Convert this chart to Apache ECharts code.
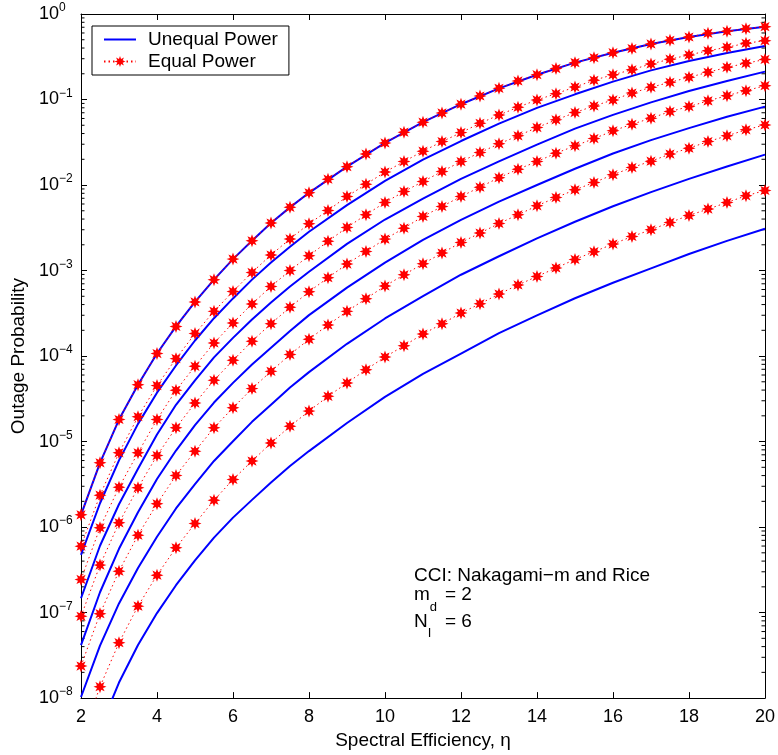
<!DOCTYPE html>
<html><head><meta charset="utf-8">
<script src="https://cdn.jsdelivr.net/npm/echarts@6/dist/echarts.min.js"></script>
<style>html,body{margin:0;padding:0;background:#fff}#c{width:778px;height:755px}</style>
</head><body><div id="c"></div>
<script>
// x values (spectral efficiency) for the marked "Equal Power" curves
const eta = [2,2.5,3,3.5,4,4.5,5,5.5,6,6.5,7,7.5,8,8.5,9,9.5,10,10.5,11,11.5,12,12.5,13,13.5,14,14.5,15,15.5,16,16.5,17,17.5,18,18.5,19,19.5,20];
const equalP1 = [1.39e-6,5.64e-6,1.81e-5,4.63e-5,1.07e-4,2.22e-4,4.29e-4,7.82e-4,1.36e-3,2.23e-3,3.59e-3,5.48e-3,8.11e-3,1.17e-2,1.64e-2,2.30e-2,3.11e-2,4.15e-2,5.43e-2,6.97e-2,8.81e-2,0.110,0.135,0.165,0.195,0.230,0.270,0.308,0.353,0.394,0.447,0.493,0.538,0.596,0.628,0.673,0.711];
const equalP2 = [5.98e-7,2.36e-6,7.38e-6,1.95e-5,4.51e-5,9.33e-5,1.83e-4,3.33e-4,5.70e-4,9.51e-4,1.52e-3,2.34e-3,3.52e-3,5.04e-3,7.35e-3,1.02e-2,1.42e-2,1.88e-2,2.49e-2,3.22e-2,4.10e-2,5.28e-2,6.58e-2,8.13e-2,9.89e-2,0.117,0.140,0.168,0.195,0.223,0.261,0.296,0.332,0.372,0.408,0.455,0.488];
const equalP3 = [2.44e-7,9.82e-7,2.92e-6,7.38e-6,1.81e-5,3.97e-5,7.59e-5,1.42e-4,2.44e-4,4.06e-4,6.52e-4,1.00e-3,1.49e-3,2.20e-3,3.19e-3,4.49e-3,6.25e-3,8.39e-3,1.10e-2,1.44e-2,1.88e-2,2.40e-2,3.03e-2,3.76e-2,4.70e-2,5.78e-2,7.03e-2,8.41e-2,9.89e-2,0.119,0.139,0.159,0.182,0.208,0.238,0.265,0.294];
const equalP4 = [9.04e-8,3.59e-7,1.12e-6,2.88e-6,6.85e-6,1.45e-5,2.82e-5,5.20e-5,8.91e-5,1.49e-4,2.39e-4,3.72e-4,5.65e-4,8.24e-4,1.19e-3,1.67e-3,2.33e-3,3.13e-3,4.29e-3,5.61e-3,7.35e-3,9.44e-3,1.22e-2,1.53e-2,1.88e-2,2.36e-2,2.87e-2,3.49e-2,4.30e-2,5.14e-2,6.05e-2,7.23e-2,8.26e-2,9.64e-2,0.111,0.127,0.145];
const equalP5 = [2.37e-8,9.70e-8,3.05e-7,8.04e-7,1.87e-6,4.01e-6,7.71e-6,1.45e-5,2.48e-5,4.16e-5,6.62e-5,1.04e-4,1.57e-4,2.31e-4,3.33e-4,4.69e-4,6.59e-4,8.93e-4,1.20e-3,1.60e-3,2.13e-3,2.74e-3,3.55e-3,4.49e-3,5.71e-3,7.14e-3,8.79e-3,1.07e-2,1.32e-2,1.60e-2,1.90e-2,2.30e-2,2.70e-2,3.22e-2,3.76e-2,4.42e-2,5.05e-2];
const equalP6 = [3.13e-9,1.36e-8,4.45e-8,1.19e-7,2.74e-7,5.73e-7,1.10e-6,2.06e-6,3.60e-6,5.92e-6,9.60e-6,1.51e-5,2.27e-5,3.38e-5,4.85e-5,6.93e-5,9.75e-5,1.32e-4,1.81e-4,2.38e-4,3.18e-4,4.09e-4,5.31e-4,6.78e-4,8.53e-4,1.07e-3,1.35e-3,1.66e-3,2.04e-3,2.50e-3,3.00e-3,3.65e-3,4.41e-3,5.23e-3,6.25e-3,7.48e-3,8.63e-3];

// x values for the solid "Unequal Power" curves
const etaU = [2,2.5,3,3.5,4,4.5,5,5.5,6,6.5,7,7.5,8,9,10,11,12,13,14,15,16,17,18,19,20];
const unequalP1 = [1.39e-6,5.64e-6,1.81e-5,4.63e-5,1.07e-4,2.22e-4,4.29e-4,7.82e-4,1.36e-3,2.23e-3,3.59e-3,5.48e-3,8.11e-3,1.64e-2,3.11e-2,5.43e-2,8.81e-2,0.135,0.195,0.270,0.353,0.447,0.538,0.628,0.711];
const unequalP2 = [4.72e-7,1.90e-6,6.03e-6,1.61e-5,3.73e-5,7.76e-5,1.52e-4,2.77e-4,4.72e-4,7.83e-4,1.24e-3,1.90e-3,2.84e-3,5.83e-3,1.12e-2,1.98e-2,3.27e-2,5.22e-2,7.98e-2,0.115,0.162,0.219,0.282,0.350,0.423];
const unequalP3 = [1.47e-7,6.05e-7,1.85e-6,4.80e-6,1.21e-5,2.69e-5,5.20e-5,9.64e-5,1.63e-4,2.68e-4,4.24e-4,6.52e-4,9.68e-4,2.05e-3,3.95e-3,6.95e-3,1.18e-2,1.89e-2,2.97e-2,4.57e-2,6.61e-2,9.25e-2,0.126,0.165,0.212];
const unequalP4 = [4.17e-8,1.73e-7,5.57e-7,1.49e-6,3.65e-6,7.85e-6,1.56e-5,2.86e-5,4.86e-5,7.96e-5,1.25e-4,1.96e-4,3.01e-4,6.32e-4,1.24e-3,2.28e-3,3.92e-3,6.40e-3,1.00e-2,1.55e-2,2.34e-2,3.35e-2,4.63e-2,6.28e-2,8.26e-2];
const unequalP5 = [1.03e-8,4.10e-8,1.28e-7,3.33e-7,7.71e-7,1.65e-6,3.17e-6,5.93e-6,1.01e-5,1.70e-5,2.70e-5,4.28e-5,6.49e-5,1.39e-4,2.75e-4,5.01e-4,8.93e-4,1.47e-3,2.38e-3,3.72e-3,5.64e-3,8.26e-3,1.18e-2,1.65e-2,2.27e-2];
const unequalP6 = [null,4.40e-9,1.52e-8,4.17e-8,9.86e-8,2.09e-7,4.07e-7,7.52e-7,1.29e-6,2.08e-6,3.32e-6,5.18e-6,7.74e-6,1.65e-5,3.33e-5,6.18e-5,1.07e-4,1.85e-4,2.99e-4,4.74e-4,7.19e-4,1.06e-3,1.56e-3,2.22e-3,3.08e-3];

// axis ticks
const xTicks = [2,4,6,8,10,12,14,16,18,20];
const yExponents = [-8,-7,-6,-5,-4,-3,-2,-1,0];
const minorMantissas = [2,3,4,5,6,7,8,9];

const FONT = '"Liberation Sans", Arial, Helvetica, sans-serif';
const xMin = xTicks[0], xMax = xTicks[xTicks.length - 1];
const yMin = Math.pow(10, yExponents[0]), yMax = Math.pow(10, yExponents[yExponents.length - 1]);

function pairs(xs, ys) {
  const out = [];
  for (let i = 0; i < xs.length; i++) if (ys[i] != null) out.push([xs[i], ys[i]]);
  return out;
}
const star = 'path://M20,10L14.62,11.91L17.07,17.07L11.91,14.62L10,20L8.09,14.62L2.93,17.07L5.38,11.91L0,10L5.38,8.09L2.93,2.93L8.09,5.38L10,0L11.91,5.38L17.07,2.93L14.62,8.09Z';

const series = [];
[unequalP1, unequalP2, unequalP3, unequalP4, unequalP5, unequalP6].forEach(arr => {
  series.push({
    name: 'Unequal Power', type: 'line', data: pairs(etaU, arr),
    symbol: 'none', smooth: false, clip: true,
    lineStyle: { color: '#0000ff', width: 2 }, itemStyle: { color: '#0000ff' }, z: 2
  });
});
[equalP1, equalP2, equalP3, equalP4, equalP5, equalP6].forEach(arr => {
  series.push({
    name: 'Equal Power', type: 'line', data: pairs(eta, arr),
    symbol: star, symbolSize: 13, showAllSymbol: true, clip: true,
    lineStyle: { color: '#ff0000', width: 1, type: [1.5, 3] },
    itemStyle: { color: '#ff0000' }, z: 3
  });
});
const minorVals = [];
yExponents.slice(0, -1).forEach(k => minorMantissas.forEach(m => minorVals.push([xMin, m * Math.pow(10, k)])));
series.push({
  type: 'custom', silent: true, z: 1, data: minorVals, encode: { x: 0, y: 1 },
  renderItem: function (params, api) {
    const v = api.value(1);
    const l = api.coord([xMin, v]);
    const r = api.coord([xMax, v]);
    return { type: 'group', children: [
      { type: 'line', shape: { x1: l[0], y1: l[1], x2: l[0] + 3.5, y2: l[1] }, style: { stroke: '#000', lineWidth: 1 } },
      { type: 'line', shape: { x1: r[0], y1: r[1], x2: r[0] - 3.5, y2: r[1] }, style: { stroke: '#000', lineWidth: 1 } }
    ] };
  }
});

const axisCommon = {
  axisLine: { show: true, lineStyle: { color: '#000', width: 1 } },
  axisTick: { show: true, inside: true, length: 6, lineStyle: { color: '#000', width: 1 } },
  splitLine: { show: false }
};
function yLabel(v) {
  const e = Math.round(Math.log10(v));
  if (yExponents.indexOf(e) < 0) return '';
  return '{b|10}{e|' + (e < 0 ? '\u2212' + (-e) : String(e)) + '}';
}

// text measuring for the annotation subscripts
const mctx = document.createElement('canvas').getContext('2d');
function tw(t, size) { mctx.font = size + 'px ' + FONT; return mctx.measureText(t).width; }
const ANN = 19, SUB = 13, annX = 414, annEqX = 445;
function txt(x, y, text, size) {
  return { type: 'text', x: x, y: y, silent: true,
    style: { text: text, font: size + 'px ' + FONT, fill: '#000', align: 'left', verticalAlign: 'middle' } };
}

const option = {
  animation: false,
  backgroundColor: '#fff',
  textStyle: { fontFamily: FONT },
  grid: { left: 81, right: 11, top: 14, bottom: 56, containLabel: false },
  legend: {
    data: [{ name: 'Unequal Power', icon: 'path://M0,0L32,0L32,2L0,2Z' }, { name: 'Equal Power' }],
    left: 92, top: 26, orient: 'vertical',
    itemWidth: 32, itemHeight: 14, itemGap: 1, symbolKeepAspect: true,
    padding: [3, 11, 3, 11],
    borderColor: '#000', borderWidth: 1, backgroundColor: '#fff',
    textStyle: { fontSize: 19, color: '#000', fontFamily: FONT, padding: [0, 0, 0, 7], lineHeight: 21 }
  },
  xAxis: [
    Object.assign({
      type: 'value', min: xMin, max: xMax, interval: 2, position: 'bottom',
      name: 'Spectral Efficiency, \u03b7', nameLocation: 'middle', nameGap: 31,
      nameTextStyle: { fontSize: 19, color: '#000', fontFamily: FONT },
      axisLabel: { fontSize: 18, color: '#000', margin: 10, fontFamily: FONT,
        formatter: v => (xTicks.indexOf(v) >= 0 ? String(v) : '') }
    }, axisCommon),
    Object.assign({
      type: 'value', min: xMin, max: xMax, interval: 2, position: 'top',
      axisLabel: { show: false }
    }, axisCommon)
  ],
  yAxis: [
    Object.assign({
      type: 'log', logBase: 10, min: yMin, max: yMax, interval: 1, splitNumber: 8, position: 'left',
      name: 'Outage Probability', nameLocation: 'middle', nameGap: 53, nameRotate: 90,
      nameTextStyle: { fontSize: 19, color: '#000', fontFamily: FONT },
      axisLabel: {
        show: true, align: 'left', margin: 42, color: '#000', formatter: yLabel,
        rich: {
          b: { fontSize: 18, lineHeight: 24, verticalAlign: 'middle', color: '#000', fontFamily: FONT },
          e: { fontSize: 12, lineHeight: 12, verticalAlign: 'top', color: '#000', fontFamily: FONT }
        }
      },
      minorTick: { show: false }
    }, axisCommon),
    Object.assign({
      type: 'log', logBase: 10, min: yMin, max: yMax, interval: 1, splitNumber: 8, position: 'right',
      axisLabel: { show: false }
    }, axisCommon)
  ],
  graphic: [
    txt(annX, 575.8, 'CCI: Nakagami\u2212m and Rice', ANN),
    txt(annX, 595.2, 'm', ANN),
    txt(annX + tw('m', ANN), 607.6, 'd', SUB),
    txt(annEqX, 595.2, '= 2', ANN),
    txt(annX, 621.8, 'N', ANN),
    txt(annX + tw('N', ANN), 633.9, 'I', SUB),
    txt(annEqX, 621.8, '= 6', ANN)
  ],
  series: series
};
const chart = echarts.init(document.getElementById('c'));
chart.setOption(option);
</script>
</body></html>
